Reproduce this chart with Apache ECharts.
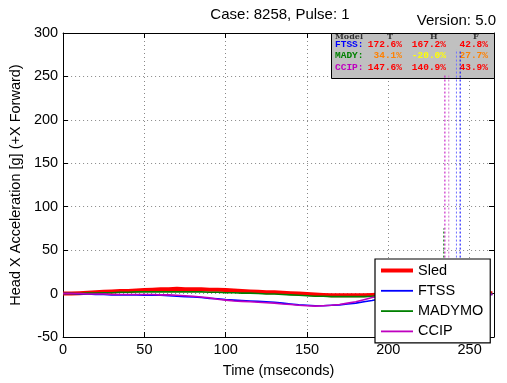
<!DOCTYPE html>
<html><head><meta charset="utf-8">
<script src="https://cdn.jsdelivr.net/npm/echarts@6/dist/echarts.min.js"></script>
<style>html,body{margin:0;padding:0;background:#fff}#c{width:507px;height:383px}</style>
</head><body><div id="c"></div>
<script>
const timeMs = [0,5,10,15,20,25,30,35,40,45,50,55,60,65,70,75,80,85,90,95,100,105,110,115,120,125,130,135,140,145,150,155,160,165,170,175,180,185,190,195,200,205,210,215,220,225,230,235,240,245,250,255,260,264];
const sled = [0,0,0.5,1,1.5,2,2.5,3,3,3.5,4,4.5,5,5,5.5,5,5,5,4.5,4.5,4,3.5,3,2.5,2,1.5,1.5,1,0.5,0,-0.5,-1,-1.5,-2,-2,-2,-2,-2,-1.5,-1,-0.5,0,0.5,0.5,1,1,1,1.5,1.5,1,1,0.5,0.5,0.5];
const ftss = [0,0,-0.5,-0.5,-1,-1,-1.5,-1.5,-1.5,-1.5,-2,-2,-2,-2.5,-3,-3.5,-4,-4.5,-5.5,-6,-7,-7.5,-8,-8.5,-9,-9.5,-10,-11,-12,-13,-13.5,-14,-14,-13.5,-13,-12,-11,-9.5,-8,-6,-4,-2.5,-1.5,-1,-0.5,-0.5,0,0,-0.5,-0.5,-1,-1,-1,-1];
const madymo = [0,0,0,0.5,0.5,1,1,1.5,1.5,2,2,2,2,2,2,2,2,2,1.5,1.5,1,1,0.5,0.5,0,-0.5,-0.5,-1,-1.5,-2,-2.5,-3,-3,-3.5,-3.5,-3.5,-3.5,-3.5,-3,-2.5,-2,-1.5,-1,-0.5,0,0,0.5,0.5,0.5,0.5,0,0,0,0];
const ccip = [0,0,0,-0.5,-0.5,-0.5,-1,-1,-1,-1,-1,-1,-1.5,-1.5,-2,-2.5,-3,-4,-5,-6.5,-7.5,-8.5,-9,-9.5,-10,-10.5,-11,-12,-12.5,-13.5,-14,-14.5,-14,-13.5,-12.5,-11,-9.5,-7,-4.5,-3,-1.5,-1,-0.5,0,0,0,0,-0.5,-0.5,-0.5,-0.5,-0.5,-0.5,-0.5];

const seriesNames = ['Sled','FTSS','MADYMO','CCIP'];
const seriesColors = ['#ff0000','#0000ff','#008000','#bf00bf'];
const seriesWidths = [4,1.6,1.6,1.6];
const seriesData = [sled, ftss, madymo, ccip];

const peakNames = ['MADYMO peak','CCIP peak','CCIP peak 2','FTSS peak','FTSS peak 2'];
const peakTimes = [234.1, 234.8, 237.2, 241.9, 244.2];
const peakValues = [75, 252, 252, 281, 281];
const peakColors = ['#008000','#bf00bf','#d070d0','#7070ff','#0000ff'];

const tableHead = ['Model','T','H','F'];
const tableModels = ['FTSS:','MADY:','CCIP:'];
const tableModelColors = ['#0000ff','#008000','#bf00bf'];
const tableT = ['172.6%','34.1%','147.6%'];
const tableH = ['167.2%','-20.0%','140.9%'];
const tableF = ['42.8%','27.7%','43.9%'];
const tableTColors = ['#ff0000','#ff8000','#ff0000'];
const tableHColors = ['#ff0000','#ffff00','#ff0000'];
const tableFColors = ['#ff0000','#ff8000','#ff0000'];

const FONT = '"Liberation Sans", Arial, Helvetica, sans-serif';
const MONO = '"Liberation Mono", "DejaVu Sans Mono", monospace';

const chart = echarts.init(document.getElementById('c'), null, {renderer:'canvas'});

const series = [];
seriesNames.forEach((n,i)=>{
  series.push({
    name:n, type:'line', symbol:'none', showSymbol:false, animation:false,
    data: timeMs.map((t,k)=>[t, seriesData[i][k]]),
    lineStyle:{color:seriesColors[i], width:seriesWidths[i]},
    itemStyle:{color:seriesColors[i]}, z: 3+i
  });
});
peakNames.forEach((n,i)=>{
  series.push({
    name:n, type:'line', symbol:'none', animation:false, z:10,
    data:[[peakTimes[i],0],[peakTimes[i],peakValues[i]]],
    lineStyle:{color:peakColors[i], width:1, type:[2,2]}
  });
});

const graphics = [];
const bx = 331, by = 33, bw = 163, bh = 45;
graphics.push({type:'rect', left:bx, top:by, shape:{width:bw, height:bh}, style:{fill:'#c0c0c0', stroke:'#000', lineWidth:1}, z:1});
const headX = [335, 387, 430, 473];
tableHead.forEach((h,i)=>{
  graphics.push({type:'text', x:headX[i], y:by, style:{text:h, font:'bold 8px "DejaVu Serif", serif', fill:'#333', textVerticalAlign:'top'}, z:1});
});
const rowY = [44.5, 56, 67.5];
const TF = 'bold 9.5px '+MONO;
tableModels.forEach((m,i)=>{
  graphics.push({type:'text', x:335, y:rowY[i], style:{text:m, font:TF, fill:tableModelColors[i], textVerticalAlign:'middle'}, z:1});
  graphics.push({type:'text', x:402, y:rowY[i], style:{text:tableT[i], font:TF, fill:tableTColors[i], textAlign:'right', textVerticalAlign:'middle'}, z:1});
  graphics.push({type:'text', x:446, y:rowY[i], style:{text:tableH[i], font:TF, fill:tableHColors[i], textAlign:'right', textVerticalAlign:'middle'}, z:1});
  graphics.push({type:'text', x:488, y:rowY[i], style:{text:tableF[i], font:TF, fill:tableFColors[i], textAlign:'right', textVerticalAlign:'middle'}, z:1});
});
graphics.push({type:'text', x:496, y:21, style:{text:'Version: 5.0', font:'15px '+FONT, fill:'#000', textAlign:'right', textVerticalAlign:'middle'}, z:6});

const axisCommon = {
  axisLine:{show:true, onZero:false, lineStyle:{color:'#000', width:1}},
  axisTick:{show:true, inside:true, length:5, lineStyle:{color:'#000'}},
};

const legendData = seriesNames.map((n,i)=>({
  name:n,
  icon: i===0 ? 'path://M0,0H32V4H0Z' : 'path://M0,0H32V1.8H0Z',
  itemStyle:{color:seriesColors[i]}
}));

chart.setOption({
  animation:false,
  backgroundColor:'#fff',
  title:{text:'Case: 8258, Pulse: 1', left:275, top:2, textAlign:'center',
    textStyle:{fontFamily:FONT, fontSize:15, fontWeight:'normal', color:'#000'}},
  grid:{left:60, right:13, top:33, bottom:38, containLabel:false},
  legend:{
    data: legendData, orient:'vertical', left:375, top:259,
    backgroundColor:'#fff', borderColor:'#000', borderWidth:1.2,
    padding:[4,7,4,6], itemWidth:32, itemHeight:14, itemGap:5.3,
    symbolKeepAspect:true,
    textStyle:{fontFamily:FONT, fontSize:14.5, color:'#000', lineHeight:14},
    selectedMode:false, z:20
  },
  xAxis:[
    Object.assign({type:'value', min:0, max:265, interval:50, position:'bottom',
      name:'Time (mseconds)', nameLocation:'middle', nameGap:26,
      nameTextStyle:{fontFamily:FONT, fontSize:14.5, color:'#000'},
      axisLabel:{fontFamily:FONT, fontSize:14.5, color:'#000', margin:5, showMaxLabel:false},
      splitLine:{show:true, lineStyle:{color:'#888', type:[1,3], width:1}}}, axisCommon),
    Object.assign({type:'value', min:0, max:265, interval:50, position:'top',
      axisLabel:{show:false}, splitLine:{show:false}}, axisCommon)
  ],
  yAxis:[
    Object.assign({type:'value', min:-50, max:300, interval:50, position:'left',
      name:'Head X Acceleration [g] (+X Forward)', nameLocation:'middle', nameGap:37,
      nameTextStyle:{fontFamily:FONT, fontSize:14.5, color:'#000'},
      axisLabel:{fontFamily:FONT, fontSize:14.5, color:'#000', margin:5},
      splitLine:{show:true, lineStyle:{color:'#888', type:[1,3], width:1}}}, axisCommon),
    Object.assign({type:'value', min:-50, max:300, interval:50, position:'right',
      axisLabel:{show:false}, splitLine:{show:false}}, axisCommon)
  ],
  series: series,
  graphic: graphics
});
</script></body></html>
